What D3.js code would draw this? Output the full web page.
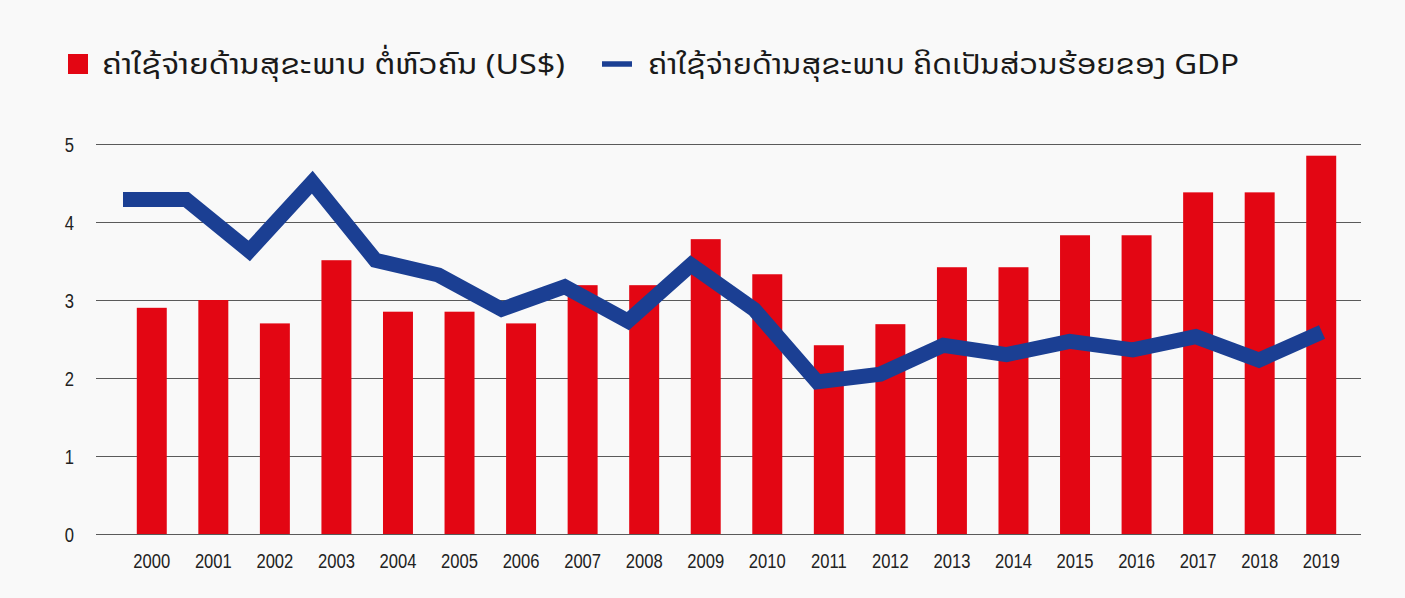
<!DOCTYPE html>
<html>
<head>
<meta charset="utf-8">
<script src="https://cdn.jsdelivr.net/npm/d3@7"></script>
<style>
  html, body { margin: 0; padding: 0; background: #f9f9f9; }
  svg { display: block; }
</style>
</head>
<body>
<svg id="chart" width="1405" height="598"></svg>
<script>
const years = ["2000","2001","2002","2003","2004","2005","2006","2007","2008","2009",
               "2010","2011","2012","2013","2014","2015","2016","2017","2018","2019"];
const perCapita = [2.9, 3.0, 2.7, 3.51, 2.85, 2.85, 2.7, 3.19, 3.19, 3.78,
                   3.33, 2.42, 2.69, 3.42, 3.42, 3.83, 3.83, 4.38, 4.38, 4.85];
const pctGDP = [4.29, 4.29, 3.63, 4.51, 3.51, 3.32, 2.88, 3.17, 2.73, 3.45,
                2.88, 1.95, 2.05, 2.42, 2.30, 2.47, 2.36, 2.53, 2.23, 2.59];
const yTicks = [0, 1, 2, 3, 4, 5];
const legendLabels = ["ຄ່າໃຊ້ຈ່າຍດ້ານສຸຂະພາບ ຕໍ່ຫົວຄົນ (US$)",
                      "ຄ່າໃຊ້ຈ່າຍດ້ານສຸຂະພາບ ຄິດເປັນສ່ວນຮ້ອຍຂອງ GDP"];

const RED = "#e30613", BLUE = "#1b3f93";
const numFont = "'Liberation Sans', Arial, sans-serif";
const laoFont = "'Noto Sans Lao', 'DejaVu Sans', 'Noto Sans', sans-serif";
const NUM_SIZE = 21, NUM_SX = 0.79;

const svg = d3.select("#chart");
svg.append("rect").attr("width", 1405).attr("height", 598).attr("fill", "#f9f9f9");

const y = d3.scaleLinear().domain([0, 5]).range([534, 144]);
const xBar = d3.scaleBand().domain(years).range([121, 1352]).paddingInner(0.513).paddingOuter(0.2565);
const xLine = d3.scalePoint().domain(years).range([123, 1322]);

// gridlines
svg.append("g").selectAll("line").data(yTicks).join("line")
  .attr("x1", 96).attr("x2", 1361)
  .attr("y1", d => Math.round(y(d)) + 0.5).attr("y2", d => Math.round(y(d)) + 0.5)
  .attr("stroke", "#5a5a5a").attr("stroke-width", 1.2);

// y labels (condensed)
svg.append("g").selectAll("text").data(yTicks).join("text")
  .attr("transform", d => `translate(74,${y(d) + 7.5}) scale(${NUM_SX},1)`)
  .attr("text-anchor", "end")
  .attr("font-family", numFont).attr("font-size", NUM_SIZE).attr("fill", "#222")
  .text(d => d);

// bars
svg.append("g").selectAll("rect").data(years).join("rect")
  .attr("x", d => xBar(d)).attr("width", xBar.bandwidth())
  .attr("y", (d, i) => y(perCapita[i]))
  .attr("height", (d, i) => y(0) - y(perCapita[i]))
  .attr("fill", RED);

// line
const line = d3.line().x((d, i) => xLine(years[i])).y(d => y(d));
svg.append("path").datum(pctGDP)
  .attr("d", line)
  .attr("fill", "none").attr("stroke", BLUE).attr("stroke-width", 15)
  .attr("stroke-linejoin", "miter").attr("stroke-miterlimit", 10);

// x labels (condensed)
svg.append("g").selectAll("text").data(years).join("text")
  .attr("transform", d => `translate(${xBar(d) + xBar.bandwidth() / 2},568) scale(${NUM_SX},1)`)
  .attr("text-anchor", "middle")
  .attr("font-family", numFont).attr("font-size", NUM_SIZE).attr("fill", "#222")
  .text(d => d);

// legend
const lg = svg.append("g");
lg.append("rect").attr("x", 68).attr("y", 54).attr("width", 20).attr("height", 20).attr("fill", RED);
lg.append("text").attr("x", 102).attr("y", 73.5)
  .attr("font-family", laoFont).attr("font-size", 28).attr("fill", "#1a1a1a")
  .attr("textLength", 463).attr("lengthAdjust", "spacingAndGlyphs")
  .text(legendLabels[0]);
lg.append("line").attr("x1", 602).attr("x2", 632).attr("y1", 64).attr("y2", 64)
  .attr("stroke", BLUE).attr("stroke-width", 5.5);
lg.append("text").attr("x", 648).attr("y", 73.5)
  .attr("font-family", laoFont).attr("font-size", 28).attr("fill", "#1a1a1a")
  .attr("textLength", 591).attr("lengthAdjust", "spacingAndGlyphs")
  .text(legendLabels[1]);
</script>
</body>
</html>
